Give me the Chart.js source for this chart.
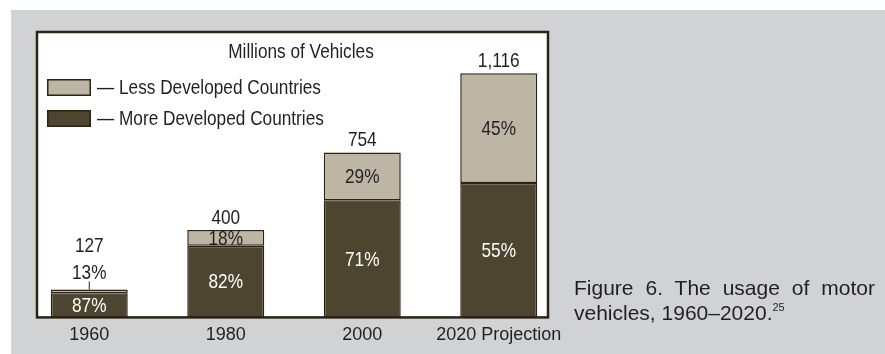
<!DOCTYPE html>
<html>
<head>
<meta charset="utf-8">
<script src="https://cdn.jsdelivr.net/npm/chart.js@4/dist/chart.umd.min.js"></script>
<style>
body { margin: 0; background: #ffffff; }
#page { position: relative; width: 885px; height: 354px; overflow: hidden; }
#panel { position: absolute; left: 11px; top: 10px; right: 0; bottom: 0; background: #d1d2d4; }
#chart { position: absolute; left: 0; top: 0; }
#caption {
	position: absolute; left: 574px; top: 275px; width: 301px;
	font-family: 'Liberation Sans', Arial, sans-serif; font-size: 21px; line-height: 25px;
	color: #231f20; text-align: justify;
	}
#caption sup { font-size: 11px; line-height: 0; vertical-align: 9px; }
</style>
</head>
<body>
<div id="page">
	<div id="panel"></div>
	<canvas id="chart" width="885" height="354"></canvas>
	<div id="caption">Figure 6. The usage of motor vehicles, 1960–2020.<sup>25</sup></div>
</div>
<script>
// ----------------------------------------------------------------------
//	motor vehicles, millions, split by country group
// ----------------------------------------------------------------------
const categories = ["1960", "1980", "2000", "2020 Projection"]
const totals = [127, 400, 754, 1116]
const more_pct = [87, 82, 71, 55]
const less_pct = [13, 18, 29, 45]

const title_text = "Millions of Vehicles"
const font_family = "'Liberation Sans', Arial, sans-serif"
const text_color = "#231f20"
const dark_fill = "#4e4530"
const light_fill = "#bdb6a5"
const edge_color = "#2b2314"

const more_values = totals.map ((t, i) => t * more_pct[i] / 100)
const less_values = totals.map ((t, i) => t * less_pct[i] / 100)

// ----------------------------------------------------------------------
function box_of (chart)
{
	const area = chart.chartArea
	return {
		left: area.left + 16,
		right: area.right - 19,
		top: area.top - 1,
		bottom: area.bottom
		}
}

// narrow lettering: squeeze the glyphs sideways
function narrow_text (ctx, text, x, y, align)
{
	ctx.save ()
	ctx.translate (x, y)
	ctx.scale (0.82, 1)
	ctx.textAlign = align
	ctx.fillText (text, 0, 0)
	ctx.restore ()
}

// ----------------------------------------------------------------------
const frame_plugin = {
	id: "frame",
	beforeDatasetsDraw (chart)
	{
		const ctx = chart.ctx
		const box = box_of (chart)
		ctx.save ()
		ctx.fillStyle = "#ffffff"
		ctx.fillRect (box.left, box.top, box.right - box.left, box.bottom - box.top)

		ctx.font = "21px " + font_family
		ctx.fillStyle = text_color
		ctx.textBaseline = "middle"
		narrow_text (ctx, title_text, box.left + 264, box.top + 20, "center")

		// legend, light group first
		const sets = chart.data.datasets
		const order = [1, 0]
		order.forEach ((k, row) =>
			{
			const y = box.top + 47 + row * 31
			ctx.fillStyle = edge_color
			ctx.fillRect (box.left + 10, y, 44, 17)
			ctx.fillStyle = sets[k].backgroundColor
			ctx.fillRect (box.left + 11.5, y + 1.5, 41, 14)
			ctx.fillStyle = text_color
			narrow_text (ctx, "— " + sets[k].label, box.left + 60, y + 9, "left")
			})
		ctx.restore ()
	},
	afterDatasetsDraw (chart)
	{
		const ctx = chart.ctx
		const box = box_of (chart)
		ctx.save ()
		ctx.strokeStyle = edge_color
		ctx.lineWidth = 2.5
		ctx.strokeRect (box.left, box.top, box.right - box.left, box.bottom - box.top)

		ctx.font = "21px " + font_family
		ctx.textBaseline = "middle"
		const more_bars = chart.getDatasetMeta (0).data
		const less_bars = chart.getDatasetMeta (1).data
		for (let j = 0; j < categories.length; j++)
			{
			const m = more_bars[j]
			const l = less_bars[j]
			ctx.fillStyle = "#ffffff"
			narrow_text (ctx, more_pct[j] + "%", m.x, (m.y + m.base) / 2 + 1, "center")

			ctx.fillStyle = text_color
			const total_text = totals[j].toLocaleString ("en-US")
			if (l.base - l.y >= 10)
				{
				narrow_text (ctx, less_pct[j] + "%", l.x, (l.y + l.base) / 2 + 1, "center")
				narrow_text (ctx, total_text, l.x, l.y - 12, "center")
				}
			else
				{
				ctx.strokeStyle = text_color
				ctx.lineWidth = 1
				ctx.beginPath ()
				ctx.moveTo (l.x, l.y)
				ctx.lineTo (l.x, l.y - 8)
				ctx.stroke ()
				narrow_text (ctx, less_pct[j] + "%", l.x, l.y - 16, "center")
				narrow_text (ctx, total_text, l.x, l.y - 43, "center")
				}
			}
		ctx.restore ()
	}
}

// ----------------------------------------------------------------------
const config = {
	type: "bar",
	data: {
		labels: categories,
		datasets: [
			{
			label: "More Developed Countries",
			data: more_values,
			backgroundColor: dark_fill,
			borderColor: edge_color,
			borderWidth: 1.5,
			borderSkipped: false,
			barPercentage: 0.564,
			categoryPercentage: 1
			},
			{
			label: "Less Developed Countries",
			data: less_values,
			backgroundColor: light_fill,
			borderColor: edge_color,
			borderWidth: 1.5,
			borderSkipped: false,
			barPercentage: 0.564,
			categoryPercentage: 1
			}
		]
		},
	options: {
		responsive: false,
		animation: false,
		devicePixelRatio: 1,
		layout: { padding: { left: 21, right: 318, top: 33, bottom: 1 } },
		scales: {
			x: {
				stacked: true,
				grid: { display: false, drawTicks: false, tickLength: 0 },
				border: { display: false },
				ticks: {
					color: text_color, padding: 7,
					maxRotation: 0, autoSkip: false,
					font: { family: font_family, size: 18 }
					}
				},
			y: { stacked: true, display: false, min: 0, max: 1300 }
			},
		plugins: {
			legend: { display: false },
			tooltip: { enabled: false }
			}
		},
	plugins: [frame_plugin]
	}

const chart = new Chart (document.getElementById ("chart"), config)
</script>
</body>
</html>
